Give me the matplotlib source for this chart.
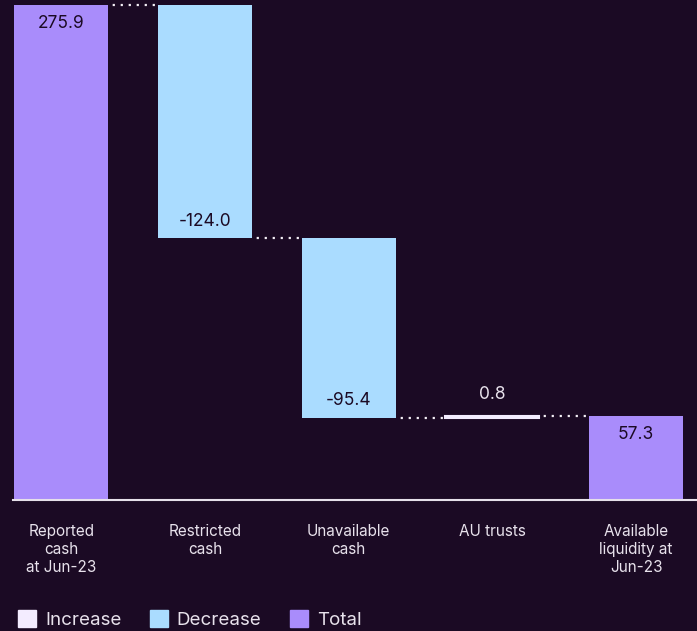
import matplotlib.pyplot as plt
from matplotlib.patches import Patch
import numpy as np

# dados da cascata
categorias = ['Reported\ncash\nat Jun-23', 'Restricted\ncash', 'Unavailable\ncash',
              'AU trusts', 'Available\nliquidity at\nJun-23']
valores = [275.9, -124.0, -95.4, 0.8, 57.3]
tipos = ['total', 'decrease', 'decrease', 'increase', 'total']
rotulos = ['275.9', '-124.0', '-95.4', '0.8', '57.3']

fundo = '#1b0a24'
cores = {'increase': '#f3ecff', 'decrease': '#aadcff', 'total': '#a98cfb'}
texto_claro = '#e8e2ec'

plt.rcParams['font.family'] = ['Inter', 'DejaVu Sans']

fig = plt.figure(figsize=(6.97, 6.31), dpi=100, facecolor=fundo)
ax = fig.add_axes([13 / 697, 131 / 631, 684 / 697, 500 / 631])
ax.set_facecolor(fundo)

x = np.arange(len(valores))
largura = 0.654

# calcular base e topo de cada barra
bases, alturas, acumulado = [], [], 0.0
for v, t in zip(valores, tipos):
    if t == 'total':
        bases.append(0.0)
        alturas.append(v)
        acumulado = v
    else:
        novo = acumulado + v
        bases.append(min(acumulado, novo))
        alturas.append(abs(v))
        acumulado = novo

topos = [b + h for b, h in zip(bases, alturas)]
ax.bar(x, alturas, bottom=bases, width=largura,
       color=[cores[t] for t in tipos], linewidth=0, zorder=2)

# barra de aumento muito fina: reforcar com contorno
for i, t in enumerate(tipos):
    if t == 'increase':
        ax.bar(x[i], alturas[i], bottom=bases[i], width=largura,
               color=cores[t], edgecolor=cores[t], linewidth=1.5, zorder=2)

# conectores pontilhados
nivel = 0.0
for i, (v, t) in enumerate(zip(valores, tipos)):
    nivel = v if t == 'total' else nivel + v
    if i < len(valores) - 1:
        ax.plot([x[i] + largura / 2, x[i + 1] - largura / 2], [nivel, nivel],
                color='#f4f0f6', linestyle=(1.5, (1, 2.6)), linewidth=1.6,
                dash_capstyle='butt', zorder=1)

# rotulos dos valores
for i, (t, r) in enumerate(zip(tipos, rotulos)):
    if t == 'total':
        ax.text(x[i], topos[i] - 5.5, r, ha='center', va='top',
                fontsize=12.5, color=fundo, zorder=3)
    elif t == 'decrease':
        ax.text(x[i], bases[i] + 4.5, r, ha='center', va='bottom',
                fontsize=12.5, color=fundo, zorder=3)
    else:
        ax.text(x[i], topos[i] + 7, r, ha='center', va='bottom',
                fontsize=12.5, color=texto_claro, zorder=3)

ax.set_xlim(-0.336, 4.424)
ax.set_ylim(12.7, 278.6)
ax.set_xticks(x)
ax.set_xticklabels(categorias, fontsize=11, color=texto_claro, linespacing=1.25)
ax.tick_params(axis='x', length=0, pad=17)
ax.set_yticks([])
for lado in ['top', 'right', 'left']:
    ax.spines[lado].set_visible(False)
ax.spines['bottom'].set_color('#e6e0ea')
ax.spines['bottom'].set_linewidth(1.5)
ax.spines['bottom'].set_zorder(4)

# legenda
handles = [Patch(color=cores['increase'], label='Increase'),
           Patch(color=cores['decrease'], label='Decrease'),
           Patch(color=cores['total'], label='Total')]
fig.legend(handles=handles, loc='lower left', bbox_to_anchor=(18 / 697, 2 / 631),
           ncol=3, frameon=False, fontsize=13.5, labelcolor=texto_claro,
           borderpad=0, borderaxespad=0, handlelength=0.95, handleheight=0.95,
           handletextpad=0.5, columnspacing=1.5)

plt.savefig('out.png', dpi=100, facecolor=fundo)
